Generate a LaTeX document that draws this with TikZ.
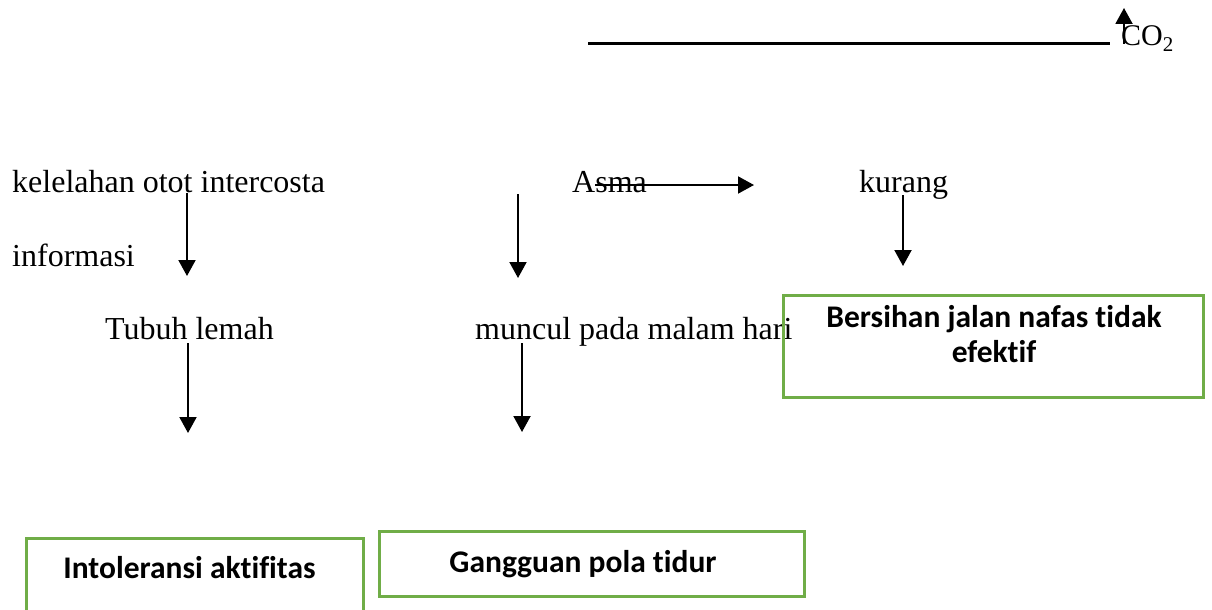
\documentclass[tikz,border=0pt]{standalone}
\usepackage{fontspec}
\setmainfont{Liberation Serif}
\newfontfamily\boxfont{Carlito}[Ligatures={NoCommon}]
\usetikzlibrary{arrows.meta}
\definecolor{boxgreen}{HTML}{70AD47}
\tikzset{
  txt/.style={inner sep=0pt, anchor=base west, font=\fontsize{32}{38}\selectfont},
  btxt/.style={inner sep=0pt, anchor=base, font=\boxfont\bfseries\fontsize{31.5}{35}\selectfont},
  greenbox/.style={draw=boxgreen, line width=3pt, fill=none, inner sep=0pt},
  arr/.style={line width=2pt, -{Triangle[width=17pt,length=16pt]}},
  plain/.style={line width=3pt}
}
\begin{document}
\begin{tikzpicture}[x=1pt,y=-1pt]
\clip (0,0) rectangle (1212,610);
\fill[white] (0,0) rectangle (1212,610);

% top line and CO2
\coordinate (l1) at (588,44);
\coordinate (l2) at (1110,44);
\draw[plain] (l1) -- (l2);
\node[inner sep=0pt, anchor=base west, font=\fontsize{30}{34}\selectfont] (co2) at (1121,46) {CO\textsubscript{2}};
\coordinate (c1) at (1124,44);
\coordinate (c2) at (1124,8);
\draw[arr] (c1) -- (c2);

% text row 1
\node[txt] (kel) at (12,192) {kelelahan otot intercosta};
\node[txt] (inf) at (12,266) {informasi};
\node[txt] (asma) at (572,192) {Asma};
\node[txt] (kur) at (859,192) {kurang};

% text row 2
\node[txt] (tub) at (105,339) {Tubuh lemah};
\node[txt] (mun) at (475,339) {muncul pada malam hari};

% arrows row 1
\coordinate (a1s) at (187,193); \coordinate (a1e) at (187,276);
\coordinate (a2s) at (518,194); \coordinate (a2e) at (518,278);
\coordinate (a3s) at (903,195); \coordinate (a3e) at (903,266);
\coordinate (h1s) at (595,185); \coordinate (h1e) at (754,185);
\draw[arr] (a1s) -- (a1e);
\draw[arr] (a2s) -- (a2e);
\draw[arr] (a3s) -- (a3e);
\draw[arr] (h1s) -- (h1e);

% arrows row 2
\coordinate (b1s) at (188,343); \coordinate (b1e) at (188,433);
\coordinate (b2s) at (522,343); \coordinate (b2e) at (522,432);
\draw[arr] (b1s) -- (b1e);
\draw[arr] (b2s) -- (b2e);

% boxes
\node[greenbox, minimum width=420pt, minimum height=102pt] (bx3) at (993,346) {};
\node[btxt] (t3a) at (994,327) {Bersihan jalan nafas tidak};
\node[btxt] (t3b) at (994,362) {efektif};

\node[greenbox, minimum width=337pt, minimum height=120pt] (bx1) at (194.5,598) {};
\node[btxt] (t1) at (189.5,578) {Intoleransi aktifitas};

\node[greenbox, minimum width=425pt, minimum height=65pt] (bx2) at (591.5,563.5) {};
\node[btxt] (t2) at (583,572) {Gangguan pola tidur};
\end{tikzpicture}
\end{document}
